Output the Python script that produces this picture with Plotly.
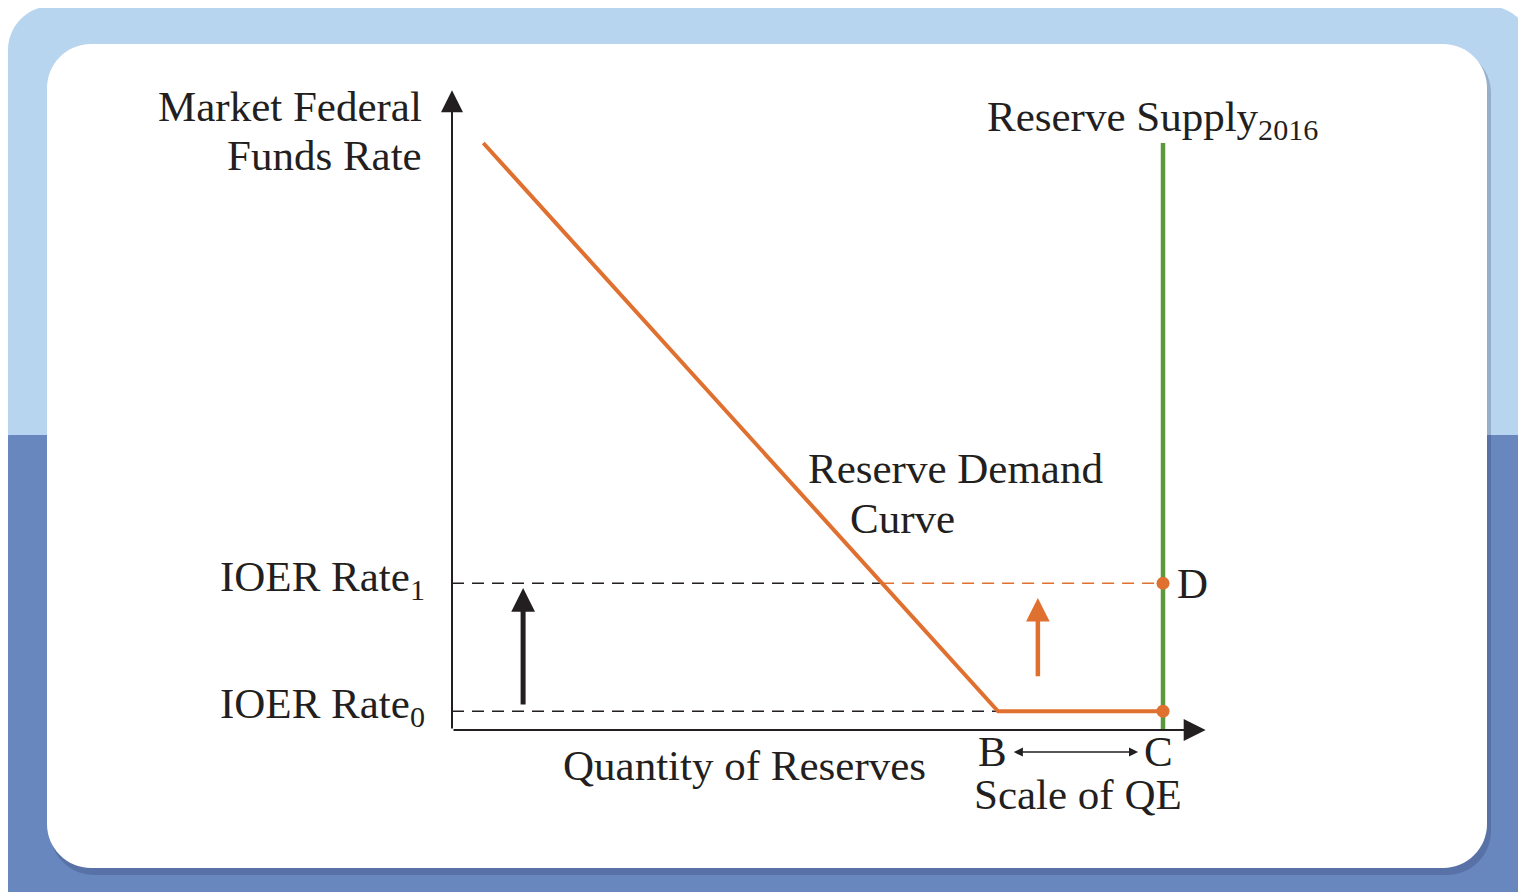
import plotly.graph_objects as go

OFF = 8                      # the browser page keeps an 8px body margin
W, H = 1526 - OFF, 892 - OFF

# ---------------- data (abstract units) ----------------
# quantity of reserves: 0 at the vertical axis, 100 at the 2016 reserve supply
# federal funds rate: 0 at the horizontal axis, 100 at the top of the demand curve
demand_q = [4.4, 76.8, 100.0]
demand_r = [100.0, 3.2, 3.2]
supply_q = [100.0, 100.0]
supply_r = [0.0, 100.0]
ioer_rate0 = 3.2
ioer_rate1 = 25.0
point_labels = ["D", "C"]
point_q = [100.0, 100.0]
point_r = [ioer_rate1, ioer_rate0]
qe_b = 76.8
qe_c = 100.0
axis_top = 109.0
axis_right = 106.0
black_arrow_q = 10.0
black_arrow_r = [4.1, 24.2]
orange_arrow_q = 82.4
orange_arrow_r = [8.9, 22.5]

# ---------------- styling ----------------
ORANGE = "#e0702f"
GREEN = "#5b9a3c"
DARK = "#231f20"
FONT = "Liberation Serif"
FS = 43

# axis scale so the picture fills the page
XK, YK = 7.11, 5.87
X0PIX, Y0PIX = 452 - OFF, 730 - OFF
xr = [-X0PIX / XK, (W - X0PIX) / XK]
yr = [-(H - Y0PIX) / YK, Y0PIX / YK]

# intersection of IOER rate1 with the demand curve
t = (demand_r[0] - ioer_rate1) / (demand_r[0] - demand_r[1])
q_int = demand_q[0] + t * (demand_q[1] - demand_q[0])

fig = go.Figure()

# dashed IOER lines
fig.add_trace(go.Scatter(x=[0, q_int], y=[ioer_rate1, ioer_rate1], mode="lines",
                         line=dict(color=DARK, width=1.5, dash="12px,8px"), hoverinfo="skip"))
fig.add_trace(go.Scatter(x=[q_int, supply_q[0]], y=[ioer_rate1, ioer_rate1], mode="lines",
                         line=dict(color=ORANGE, width=1.5, dash="12px,8px"), hoverinfo="skip"))
fig.add_trace(go.Scatter(x=[0, demand_q[1]], y=[ioer_rate0, ioer_rate0], mode="lines",
                         line=dict(color=DARK, width=1.5, dash="12px,8px"), hoverinfo="skip"))

# supply
fig.add_trace(go.Scatter(x=supply_q, y=supply_r, mode="lines",
                         line=dict(color=GREEN, width=4.5), hoverinfo="skip"))
# demand
fig.add_trace(go.Scatter(x=demand_q, y=demand_r, mode="lines",
                         line=dict(color=ORANGE, width=4), hoverinfo="skip"))
# points
fig.add_trace(go.Scatter(x=point_q, y=point_r, mode="markers",
                         marker=dict(color=ORANGE, size=13), hoverinfo="skip"))

ann = []
def arrow(tip, tail, color, width, size, head=2, **kw):
    d = dict(x=tip[0], y=tip[1], ax=tail[0], ay=tail[1], xref="x", yref="y",
             axref="x", ayref="y", text="", showarrow=True, arrowhead=head,
             arrowsize=size, arrowwidth=width, arrowcolor=color)
    d.update(kw)
    ann.append(d)

# axes
arrow((0, axis_top), (0, 0), DARK, 2, 2.2)
arrow((axis_right, 0), (0, 0), DARK, 2, 2.2)
# shift arrows
arrow((black_arrow_q, black_arrow_r[1]), (black_arrow_q, black_arrow_r[0]), DARK, 5, 0.95)
arrow((orange_arrow_q, orange_arrow_r[1]), (orange_arrow_q, orange_arrow_r[0]), ORANGE, 4.5, 1.05)
# scale of QE double arrow
arrow((qe_c - 3.5, -3.75), (qe_b + 2.0, -3.75), DARK, 1.4, 1.3,
      arrowside="end+start", startarrowhead=2, startarrowsize=1.3)

def label(text, x, y, xanchor="center", yanchor="middle", align="center", size=FS):
    ann.append(dict(text=text, x=x, y=y, xref="x", yref="y", showarrow=False,
                    xanchor=xanchor, yanchor=yanchor, align=align,
                    font=dict(family=FONT, size=size, color=DARK)))

label("Market Federal", -3.9, 106.3, xanchor="right", align="right")
label("Funds Rate", -3.9, 97.8, xanchor="right", align="right")
label("Reserve Supply<sub>2016</sub>", 75.0, 104.0, xanchor="left", align="left")
label("Reserve Demand", 70.8, 44.6)
label("Curve", 63.3, 36.1)
label("IOER Rate<sub>1</sub>", -32.9, 25.6, xanchor="left", align="left")
label("IOER Rate<sub>0</sub>", -32.9, 3.9, xanchor="left", align="left")
label(point_labels[0], 101.7, ioer_rate1, xanchor="left")
label("B", qe_b - 0.8, -3.6)
label(point_labels[1], qe_c - 0.7, -3.6)
label("Quantity of Reserves", 41.1, -6.0)
label("Scale of QE", 88.0, -11.0)

# ---------------- background frame (page pixel coordinates) ----------------
def P(x, y):
    return f"{(x - OFF) / W:.5f},{1 - (y - OFF) / H:.5f}"

def rrect(x0, y0, x1, y1, r):
    c = 0.5523 * r
    return (f"M{P(x0 + r, y0)} L{P(x1 - r, y0)} "
            f"C{P(x1 - r + c, y0)} {P(x1, y0 + r - c)} {P(x1, y0 + r)} "
            f"L{P(x1, y1 - r)} "
            f"C{P(x1, y1 - r + c)} {P(x1 - r + c, y1)} {P(x1 - r, y1)} "
            f"L{P(x0 + r, y1)} "
            f"C{P(x0 + r - c, y1)} {P(x0, y1 - r + c)} {P(x0, y1 - r)} "
            f"L{P(x0, y0 + r)} "
            f"C{P(x0, y0 + r - c)} {P(x0 + r - c, y0)} {P(x0 + r, y0)} Z")

shapes = [
    dict(type="path", path=rrect(8, 6, 1532, 960, 44), xref="paper", yref="paper",
         fillcolor="#b8d5ef", line=dict(width=0), layer="below"),
    dict(type="path", path=rrect(8, 435, 1532, 960, 1), xref="paper", yref="paper",
         fillcolor="#6887bf", line=dict(width=0), layer="below"),
    dict(type="path", path=rrect(50, 49, 1491, 875, 44), xref="paper", yref="paper",
         fillcolor="rgba(30,40,80,0.22)", line=dict(width=0), layer="below"),
    dict(type="path", path=rrect(47, 44, 1487, 868, 44), xref="paper", yref="paper",
         fillcolor="white", line=dict(width=0), layer="below"),
]

fig.update_layout(
    width=W, height=H, margin=dict(l=0, r=0, t=0, b=0),
    paper_bgcolor="white", plot_bgcolor="white", showlegend=False,
    xaxis=dict(range=xr, visible=False, fixedrange=True),
    yaxis=dict(range=yr, visible=False, fixedrange=True),
    shapes=shapes, annotations=ann,
)

fig.write_html("out.html", config={"displayModeBar": False})
